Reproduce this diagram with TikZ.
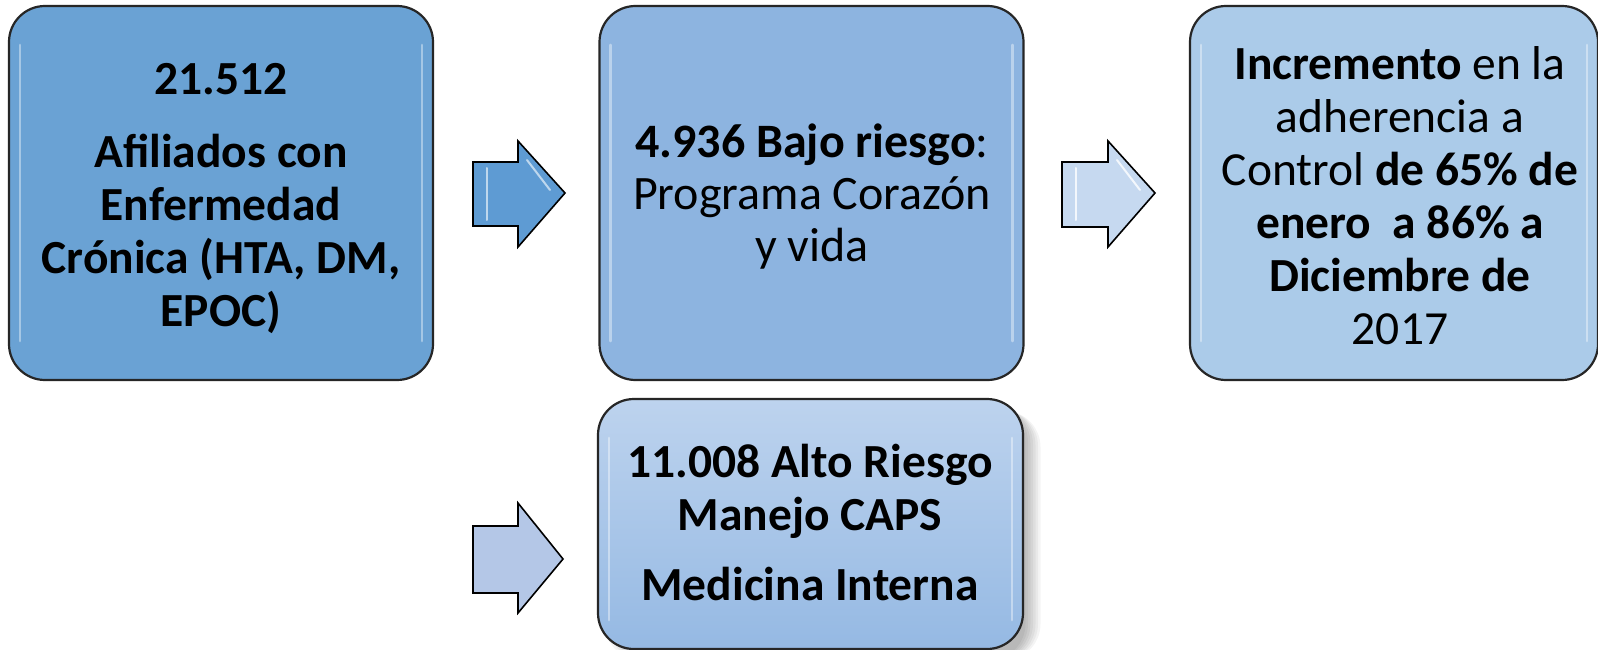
\documentclass[tikz,border=0pt]{standalone}
\usepackage{fontspec}
\setmainfont{Carlito}
\usetikzlibrary{calc}
\definecolor{cA}{HTML}{6AA2D4}
\definecolor{cB}{HTML}{8DB4E0}
\definecolor{cC}{HTML}{ABCBE9}
\definecolor{cDtop}{HTML}{BDD3EE}
\definecolor{cDbot}{HTML}{95B9E3}
\definecolor{arA}{HTML}{5E9BD3}
\definecolor{arB}{HTML}{C6D9F0}
\definecolor{arC}{HTML}{B4C7E7}
\newcommand\mynolsk{\lineskiplimit=-100pt\relax}
\tikzset{
  box/.style={draw=black!85, line width=2.2pt, rounded corners=36pt, inner sep=0pt},
  txt/.style={align=center, inner sep=0pt, anchor=north, font={\fontsize{47.5}{53}\selectfont\mynolsk}},
  blockarrow/.style={draw=black, line width=1.6pt, line join=miter},
  gloss/.style={white, opacity=0.4, line width=2.5pt, line cap=round},
}
\begin{document}
\begin{tikzpicture}[x=1pt,y=-1pt]
\useasboundingbox (0,0) rectangle (1598,650);
\fill[white] (0,0) rectangle (1598,650);
% shadow of box4
\foreach \i in {1,...,7}{
  \fill[black, opacity=0.045, rounded corners=36pt] (602+3*\i,404+\i) rectangle (1023+2.5*\i,660);
}
% boxes
\node[box, fill=cA, minimum width=424pt, minimum height=374pt] (b1) at (221,193) {};
\node[box, fill=cB, minimum width=424pt, minimum height=374pt] (b2) at (811.5,193) {};
\node[box, fill=cC, minimum width=408pt, minimum height=374pt] (b3) at (1394,193) {};
\node[box, top color=cDtop, bottom color=cDbot, minimum width=425pt, minimum height=250pt] (b4) at (810.5,524) {};
% gloss highlights
\foreach \n in {b1,b2,b3}{
  \draw[gloss] ($(\n.north west)+(12,40)$) -- ($(\n.south west)+(12,-40)$);
  \draw[gloss] ($(\n.north east)+(-12,40)$) -- ($(\n.south east)+(-12,-40)$);
}
\draw[gloss] ($(b4.north west)+(12,40)$) -- ($(b4.south west)+(12,-30)$);
\draw[gloss] ($(b4.north east)+(-12,40)$) -- ($(b4.south east)+(-12,-30)$);
% texts
\node[txt] (t1) at (221,63) {\textbf{21.512}\\[20pt]\textbf{Afiliados con}\\\textbf{Enfermedad}\\\textbf{Crónica (HTA, DM,}\\\textbf{EPOC)}};
\node[txt, font={\fontsize{48}{52}\selectfont\mynolsk}] (t2) at (812,124) {\textbf{4.936 Bajo riesgo}:\\Programa Corazón\\y vida};
\node[txt] (t3) at (1400,46) {\textbf{Incremento} en la\\adherencia a\\Control \textbf{de 65\% de}\\\textbf{enero\ \ a 86\% a}\\\textbf{Diciembre de}\\2017};
\node[txt] (t4) at (810,444) {\textbf{11.008 Alto Riesgo}\\\textbf{Manejo CAPS}\\[17pt]\textbf{Medicina Interna}};
% block arrows
\coordinate (a1) at (473,162);
\draw[blockarrow, fill=arA] (a1) -- (518,162) -- (518,141) -- (565,193) -- (518,247) -- (518,226) -- (473,226) -- cycle;
\draw[gloss, line width=2pt, opacity=0.6] (487,168) -- (487,220);
\draw[gloss, line width=2pt, opacity=0.6] (527,160) -- (550,190);
\coordinate (a2) at (1062,162);
\draw[blockarrow, fill=arB] (a2) -- (1108,162) -- (1108,141) -- (1155,193) -- (1108,247) -- (1108,227) -- (1062,227) -- cycle;
\draw[gloss, line width=2pt, opacity=0.8] (1076,168) -- (1076,220);
\draw[gloss, line width=2pt, opacity=0.8] (1117,160) -- (1140,190);
\coordinate (a3) at (473,526);
\draw[blockarrow, fill=arC] (a3) -- (518,526) -- (518,503) -- (563,559) -- (518,613) -- (518,593) -- (473,593) -- cycle;
\end{tikzpicture}
\end{document}
